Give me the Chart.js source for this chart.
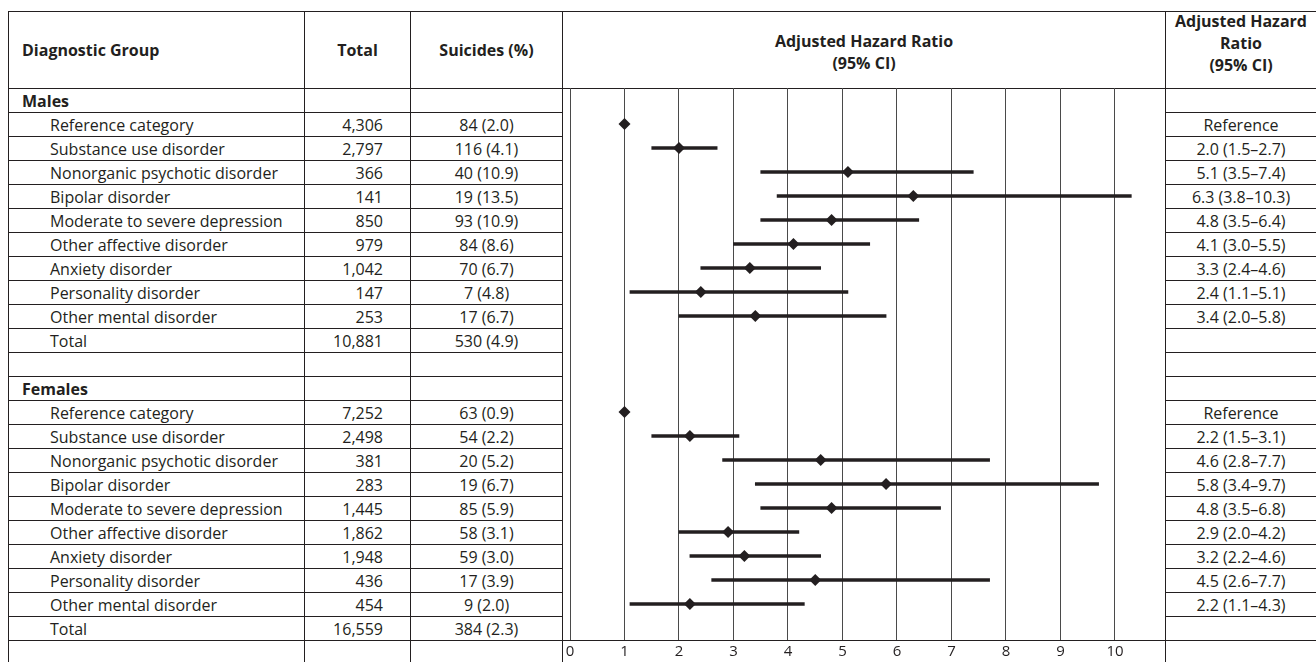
<!DOCTYPE html>
<html>
<head>
<meta charset="utf-8">
<script src="https://cdn.jsdelivr.net/npm/chart.js@4.4.1/dist/chart.umd.min.js"></script>
<style>
html, body { margin: 0; background: #fff; }
body { width: 1316px; height: 662px; overflow: hidden; position: relative;
       font-family: "Open Sans", sans-serif; font-size: 16px; color: #231f20; }
#tbl { position: absolute; left: 8px; top: 11px; border-collapse: collapse; table-layout: fixed; width: 1308px; }
#tbl td { border: 1px solid #231f20; padding: 0; white-space: nowrap; line-height: 1; }
#tbl tr.hd { height: 77px; }
#tbl tr.rw { height: 24px; }
#tbl tr.ax { height: 22px; }
#tbl tr.ax td { border-bottom: 0; }
#tbl .hd td { font-weight: bold; }
#tbl .lab { padding-left: 41px; }
#tbl .sec { padding-left: 13px; font-weight: bold; }
#tbl .num { text-align: right; padding-right: 27px; }
#tbl .ctr { text-align: center; }
#tbl .hd .two { line-height: 22px; padding-top: 3px; }
#tbl .hd .three { vertical-align: top; line-height: 22px; }
#tbl .hd .three div { margin-top: -2px; }
#chart { position: absolute; left: 562px; top: 88px; }
</style>
</head>
<body>
<table id="tbl">
  <colgroup>
    <col style="width:296px"><col style="width:106px"><col style="width:152px"><col style="width:603px"><col style="width:151px">
  </colgroup>
  <tbody id="body"></tbody>
</table>
<canvas id="chart" width="602" height="574"></canvas>
<script>
// categories
const groups = ["Reference category", "Substance use disorder", "Nonorganic psychotic disorder", "Bipolar disorder",
  "Moderate to severe depression", "Other affective disorder", "Anxiety disorder", "Personality disorder", "Other mental disorder"];

// males
const maleTotal = ["4,306", "2,797", "366", "141", "850", "979", "1,042", "147", "253"];
const maleSuicides = ["84 (2.0)", "116 (4.1)", "40 (10.9)", "19 (13.5)", "93 (10.9)", "84 (8.6)", "70 (6.7)", "7 (4.8)", "17 (6.7)"];
const maleAll = ["10,881", "530 (4.9)"];
const maleHR = [1.0, 2.0, 5.1, 6.3, 4.8, 4.1, 3.3, 2.4, 3.4];
const maleLo = [null, 1.5, 3.5, 3.8, 3.5, 3.0, 2.4, 1.1, 2.0];
const maleHi = [null, 2.7, 7.4, 10.3, 6.4, 5.5, 4.6, 5.1, 5.8];

// females
const femaleTotal = ["7,252", "2,498", "381", "283", "1,445", "1,862", "1,948", "436", "454"];
const femaleSuicides = ["63 (0.9)", "54 (2.2)", "20 (5.2)", "19 (6.7)", "85 (5.9)", "58 (3.1)", "59 (3.0)", "17 (3.9)", "9 (2.0)"];
const femaleAll = ["16,559", "384 (2.3)"];
const femaleHR = [1.0, 2.2, 4.6, 5.8, 4.8, 2.9, 3.2, 4.5, 2.2];
const femaleLo = [null, 1.5, 2.8, 3.4, 3.5, 2.0, 2.2, 2.6, 1.1];
const femaleHi = [null, 3.1, 7.7, 9.7, 6.8, 4.2, 4.6, 7.7, 4.3];

// x axis ticks
const xTicks = [0, 1, 2, 3, 4, 5, 6, 7, 8, 9, 10];

const ink = '#231f20';
const f1 = v => v.toFixed(1);
const ciText = (hr, lo, hi) => lo == null ? 'Reference' : f1(hr) + ' (' + f1(lo) + '\u2013' + f1(hi) + ')';

// build table
const body = document.getElementById('body');
let html = '<tr class="hd"><td class="sec">Diagnostic Group</td><td class="ctr">Total</td><td class="ctr">Suicides (%)</td>' +
  '<td class="ctr two">Adjusted Hazard Ratio<br>(95% CI)</td>' +
  '<td class="ctr three"><div>Adjusted Hazard<br>Ratio<br>(95% CI)</div></td></tr>';
let first = true;
function row(c1, cls, c2, c3, c5) {
  let s = '<tr class="rw"><td class="' + cls + '">' + c1 + '</td><td class="num">' + c2 + '</td><td class="ctr">' + c3 + '</td>';
  if (first) { s += '<td rowspan="23"></td>'; first = false; }
  return s + '<td class="ctr">' + c5 + '</td></tr>';
}
const sections = [
  { name: 'Males', tot: maleTotal, sui: maleSuicides, all: maleAll, hr: maleHR, lo: maleLo, hi: maleHi },
  { name: 'Females', tot: femaleTotal, sui: femaleSuicides, all: femaleAll, hr: femaleHR, lo: femaleLo, hi: femaleHi }
];
const ciData = [], hrData = [];
let r = 0;
sections.forEach(function (s, si) {
  html += row(s.name, 'sec', '', '', ''); r++;
  groups.forEach(function (g, i) {
    html += row(g, 'lab', s.tot[i], s.sui[i], ciText(s.hr[i], s.lo[i], s.hi[i]));
    hrData.push({ x: s.hr[i], y: r });
    if (s.lo[i] != null) ciData.push({ x: [s.lo[i], s.hi[i]], y: r });
    r++;
  });
  html += row('Total', 'lab', s.all[0], s.all[1], ''); r++;
  if (si === 0) { html += row('', 'lab', '', '', ''); r++; }
});
html += '<tr class="ax"><td></td><td></td><td></td><td></td><td></td></tr>';
body.innerHTML = html;

// forest plot
new Chart(document.getElementById('chart'), {
  type: 'bar',
  data: {
    datasets: [
      { type: 'bar', data: ciData, backgroundColor: ink, borderWidth: 0, barThickness: 3 },
      { type: 'scatter', data: hrData, pointStyle: 'rectRot', pointRadius: 6, backgroundColor: ink, borderWidth: 0 }
    ]
  },
  options: {
    indexAxis: 'y',
    responsive: false,
    animation: false,
    layout: { padding: 0, autoPadding: false },
    plugins: { legend: { display: false }, tooltip: { enabled: false } },
    scales: {
      x: {
        type: 'linear', min: -0.147, max: 10.9,
        afterBuildTicks: function (s) { s.ticks = xTicks.map(v => ({ value: v })); },
        afterFit: function (s) { s.height = 22; },
        grid: { color: '#4a4a4a', lineWidth: 1, drawTicks: false },
        border: { display: false },
        ticks: { padding: 3, color: ink, font: { family: 'Open Sans', size: 15 } }
      },
      y: { type: 'linear', reverse: true, offset: false, min: -0.5, max: 22.5, display: false,
           grid: { offset: false } }
    }
  }
});
</script>
</body>
</html>
